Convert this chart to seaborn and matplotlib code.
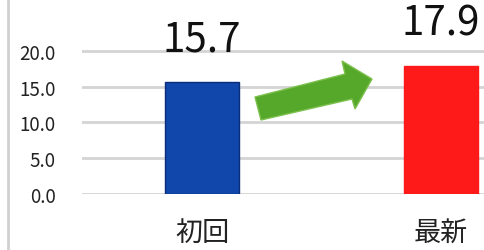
import matplotlib
matplotlib.use("Agg")
import matplotlib.pyplot as plt
import seaborn as sns
import pandas as pd
from matplotlib.patches import Polygon
from matplotlib.lines import Line2D

categories = ["初回", "最新"]
values = [15.7, 17.9]
value_labels = ["15.7", "17.9"]
bar_colors = ["#1146aa", "#ff1a1a"]
edge_colors = ["#0a2d7a", "#ff1a1a"]
yticks = [0, 5, 10, 15, 20]
ytick_labels = ["0.0", "5.0", "10.0", "15.0", "20.0"]

sns.set_theme(style="white")
plt.rcParams['font.family'] = ['Noto Sans CJK JP', 'DejaVu Sans']

W, H = 484, 251
fig = plt.figure(figsize=(W / 100, H / 100), dpi=100)
ax = fig.add_axes([82 / W, (H - 195) / H, (W - 82) / W, 195 / H])

df = pd.DataFrame({"cat": categories, "val": values})
sns.barplot(data=df, x="cat", y="val", hue="cat", palette=bar_colors,
            saturation=1, width=0.31, legend=False, ax=ax, zorder=3)
for p, ec in zip(ax.patches, edge_colors):
    p.set_edgecolor(ec)
    p.set_linewidth(1.0)

ax.set_xlim(-0.502, 1.18)
ax.set_ylim(0, 27.27)
ax.set_yticks(yticks)
ax.set_yticklabels(ytick_labels, fontsize=13.5, color="#222222")
ax.yaxis.grid(True, color="#d4d4d4", linewidth=2.0, zorder=0)
ax.set_axisbelow(True)
ax.tick_params(axis="y", length=0, pad=19)
ax.tick_params(axis="x", length=0, pad=18)
ax.set_xticks(range(len(categories)))
ax.set_xticklabels(categories, fontsize=19.5, color="#222222")
ax.set_xlabel("")
ax.set_ylabel("")
for s in ax.spines.values():
    s.set_visible(False)

for i, (v, lab) in enumerate(zip(values, value_labels)):
    ax.annotate(lab, (i, v), xytext=(0, 16), textcoords="offset points",
                ha="center", va="bottom", fontsize=29, color="#111111",
                annotation_clip=False)

# left frame border
fig.add_artist(Line2D([8 / W, 8 / W], [0, 1], transform=fig.transFigure,
                      color="#d0d0d0", linewidth=2.0))

# green arrow (pixel coordinates, top-left origin)
arrow_px = [(255, 98), (345, 75), (342, 62), (372, 80), (355, 110),
            (352, 100), (261, 121)]
arrow_fig = [(x / W, 1 - y / H) for x, y in arrow_px]
fig.add_artist(Polygon(arrow_fig, closed=True, transform=fig.transFigure,
                       facecolor="#56a82a", edgecolor="#7cc04e", linewidth=1.0))

fig.savefig("out.png", dpi=100)
